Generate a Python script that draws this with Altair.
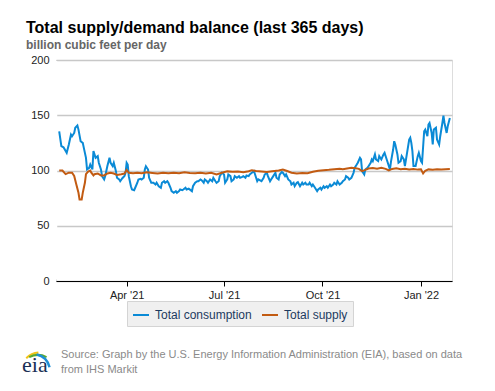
import altair as alt
import pandas as pd

# Day offsets are days after 25 Jan 2021
START = "2021-01-25"

cons_day = [3,5,7,10,12,14,15,17,18,20,21,23,25,26,28,29,31,32,34,35,37,39,40,42,43,45,46,48,50,51,53,54,56,57,59,60,62,64,
            65,66,67,68,70,71,73,74,76,77,79,80,82,83,84,86,87,89,91,93,94,96,98,99,101,102,104,105,107,108,110,112,113,115,116,118,119,121,122,124,
            127,128,130,132,133,135,136,138,139,141,142,144,146,147,149,150,152,153,155,157,158,160,161,163,164,166,167,169,171,172,174,175,177,178,180,181,183,185,186,188,189,
            192,194,195,197,198,200,201,203,205,206,208,209,211,212,214,215,217,219,220,222,223,225,226,228,230,231,233,234,236,237,239,240,242,244,245,247,248,250,251,253,
            254,256,257,259,260,262,263,265,267,268,270,271,273,274,276,278,279,281,282,284,285,286,288,289,291,292,294,295,296,298,299,301,302,304,306,307,309,310,312,
            313,315,316,317,319,320,322,323,325,326,328,330,331,332,333,334,336,338,339,341,342,344,345,347,348,349,351,352,353,355,356,358,359,361,362,363,365,366,368]
cons_val = [135.5,122,121,116,123.5,132.5,131,134,138.6,140.7,137,126.5,125,120.5,111.5,101,102.4,105.4,101,117.5,111.5,113,107,101,95,92,95,104,111.5,107,104,107,99.4,93.4,92,90.3,93,95,
            97.9,107,105.4,94.9,85.8,82.8,82.2,84.4,88.9,91.9,92.5,91.9,93.4,100.9,103.9,100.9,93.4,88.9,88.9,87.3,88.9,85.8,84.4,88.9,90.3,88.9,90.3,88.9,84.4,81.3,79.8,81.3,79.8,81.3,82.8,82.2,82.8,84.4,82.8,83.5,
            81.3,85.8,88.9,90.3,90.3,91.9,91.2,88.9,91.9,90.3,88.9,91.9,90.3,93.4,90.3,88.9,90.3,94.9,97.9,96.4,88.9,91.9,96.4,94.9,90.3,91.9,94.9,93.4,94.9,93.4,94.3,94.9,93.4,95.5,94.9,96.4,97.9,99.4,96.4,90.3,91.9,
            90.3,93.4,96.4,97.9,94.9,90.3,91.9,94.9,97.9,93.4,91.9,96.4,98.5,97.9,94.9,96.4,91.9,90.3,87.3,88.9,85.8,88.9,89.4,85.8,88.9,87.3,88.9,87.3,87.3,88.9,85.8,87.3,84.4,81.3,82.8,84.4,82.8,85.8,84.4,85.8,
            84.4,87.3,85.8,87.3,88.9,87.3,90.3,87.3,88.9,90.3,91.9,94.9,93.4,91.9,93.4,97.9,102.4,105.4,107,111.5,110,99.4,96.4,100.9,102.4,103.9,107,110,108.5,114.5,110,108.5,113,110,114.5,116,110,107,100.9,
            108,119,126.5,123.5,114.5,107,108.5,113,110,104,116,128,129.6,125,117.5,104,104,113,116,108.5,107,135.5,137,131,141.6,143,134,123.5,137,138.6,128,123.5,131,143,149.7,143,134,140,147.6]

supp_day = [3,6,9,12,15,17,19,21,22,24,25,27,28,30,32,33,35,36,39,42,45,48,51,54,57,61,64,66,68,72,76,80,85,90,95,100,105,110,115,120,125,
            130,135,140,145,150,155,160,165,170,175,180,183,187,192,197,202,208,212,216,220,225,230,235,240,245,250,255,260,265,
            268,272,276,280,283,286,289,292,296,300,304,308,311,314,318,322,326,330,334,338,341,343,345,348,352,356,360,364,368]
supp_val = [100,100,96.7,98,98,95,87.3,79.8,73.8,73.8,79.8,88.9,96.7,99,100,98,95.5,96.7,97.3,95.5,95.5,97.3,98,97.3,96,96.7,97.3,100.5,98,97.5,98,97.6,98.4,97.8,97.3,98,97.5,98,97.6,98.3,97.8,
            97.5,98,97.4,98,96.5,98,99.2,98.8,99,98.5,99.3,100.3,99.5,99,98.6,99.4,100,100.8,99.5,98,97.3,97.8,97.5,98.8,99.8,100.3,100.6,101.2,101.5,
            101.2,101.8,102.4,102,101.5,99.4,100.5,101.8,102.2,101.6,102.4,101.5,100,101.4,102,101.2,101.6,101,101.4,100.8,101,97.3,99.8,101,100.6,101.2,100.8,101.2,101.4]

series_names = ["Total consumption", "Total supply"]
series_colors = ["#0a8ad6", "#c25b12"]
x_ticks = [(2021, 4, 1), (2021, 7, 1), (2021, 10, 1), (2022, 1, 1)]
x_domain = [(2021, 1, 25), (2022, 1, 30)]
y_ticks = [0, 50, 100, 150, 200]

title_text = "Total supply/demand balance (last 365 days)"
subtitle_text = "billion cubic feet per day"
source_lines = ["Source: Graph by the U.S. Energy Information Administration (EIA), based on data",
                "from IHS Markit"]

FONT = "Liberation Sans"

base = pd.Timestamp(START)
df = pd.concat([
    pd.DataFrame({"date": base + pd.to_timedelta(cons_day, unit="D"), "value": cons_val, "series": series_names[0]}),
    pd.DataFrame({"date": base + pd.to_timedelta(supp_day, unit="D"), "value": supp_val, "series": series_names[1]}),
], ignore_index=True)

def dt(t):
    return alt.DateTime(year=t[0], month=t[1], date=t[2])

lines = alt.Chart(df).mark_line(strokeWidth=2).encode(
    x=alt.X("date:T",
            scale=alt.Scale(domain=[dt(t) for t in x_domain]),
            axis=alt.Axis(values=[dt(t) for t in x_ticks], format="%b '%y", title=None,
                          grid=False, domain=True, domainColor="#000000", domainWidth=1,
                          tickColor="#000000", tickSize=5, labelPadding=3,
                          labelFont=FONT, labelFontSize=11, labelColor="#222222")),
    y=alt.Y("value:Q",
            scale=alt.Scale(domain=[0, 200], nice=False),
            axis=alt.Axis(values=y_ticks, title=None, domain=False, ticks=False,
                          labelPadding=7, grid=True, gridColor="#c8c8c8", gridWidth=1.5,
                          labelFont=FONT, labelFontSize=11, labelColor="#222222")),
    color=alt.Color("series:N",
                    scale=alt.Scale(domain=series_names, range=series_colors),
                    sort=series_names,
                    legend=alt.Legend(orient="none", legendX=71, legendY=241,
                                      direction="horizontal", title=None,
                                      fillColor="#f0f0f0", strokeColor="#d4d4d4",
                                      padding=5, columnPadding=6, labelOffset=5,
                                      symbolType="stroke", symbolSize=256, symbolStrokeWidth=2,
                                      labelFont=FONT, labelFontSize=12, labelColor="#1d3a5f")),
)

one = pd.DataFrame({"k": [0]})

# white edge over the left border of the plot area
edge = alt.Chart(one).mark_rule(color="#ffffff", strokeWidth=2.5).encode(
    x=alt.value(0), y=alt.value(1), y2=alt.value(219.5))

src1 = alt.Chart(pd.DataFrame({"t": [source_lines[0]]})).mark_text(
    align="left", baseline="alphabetic", font=FONT, fontSize=11, color="#8a8a8a"
).encode(x=alt.value(5), y=alt.value(298), text="t:N")
src2 = alt.Chart(pd.DataFrame({"t": [source_lines[1]]})).mark_text(
    align="left", baseline="alphabetic", font=FONT, fontSize=11, color="#8a8a8a"
).encode(x=alt.value(5), y=alt.value(313), text="t:N")

logo = alt.Chart(pd.DataFrame({"t": ["eia"]})).mark_text(
    align="left", baseline="alphabetic", font="Liberation Serif", fontSize=22, color="#1b2f55"
).encode(x=alt.value(-34), y=alt.value(312), text="t:N")

arc_y = alt.Chart(one).mark_arc(theta=5.50, theta2=6.20, radius=20.5, radius2=18.5, color="#f2c318").encode(
    x=alt.value(-16), y=alt.value(312))
arc_g = alt.Chart(one).mark_arc(theta=5.80, theta2=6.75, radius=20, radius2=18, color="#5aa832").encode(
    x=alt.value(-18), y=alt.value(314))
arc_b = alt.Chart(one).mark_arc(theta=0.17, theta2=1.40, radius=17, radius2=14.5, color="#1e8fd6").encode(
    x=alt.value(-22), y=alt.value(310))

chart = alt.layer(edge, lines, src1, src2, arc_y, arc_g, arc_b, logo).properties(
    width=396, height=221,
    autosize=alt.AutoSizeParams(type="none"),
    padding={"left": 48, "top": 52, "right": 35, "bottom": 102},
    title=alt.TitleParams(text=title_text, subtitle=subtitle_text, anchor="start", frame="group",
                          dx=-30, offset=3, font=FONT, fontSize=16, fontWeight="bold", color="#000000",
                          subtitleFont=FONT, subtitleFontSize=12, subtitleFontWeight="bold",
                          subtitleColor="#666666", subtitlePadding=4),
).configure_view(stroke="transparent", strokeWidth=0
).configure(background="#ffffff")

chart.save("out.html", embed_options={"renderer": "svg", "actions": False})
